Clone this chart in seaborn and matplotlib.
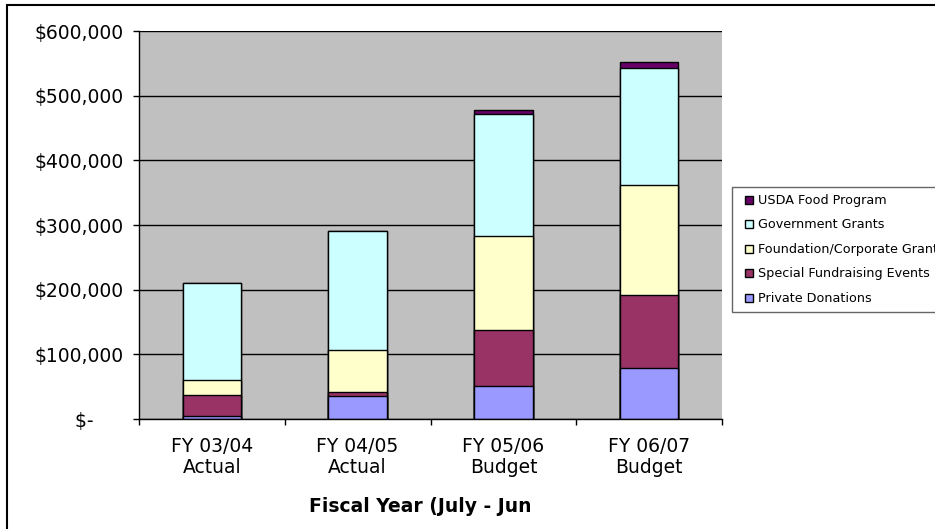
import pandas as pd
import seaborn as sns
import matplotlib.pyplot as plt
from matplotlib.lines import Line2D
from matplotlib.patches import Rectangle
from matplotlib.ticker import FuncFormatter, FixedLocator
from matplotlib.transforms import Bbox, TransformedBbox

# --- data ---
years = ["FY 03/04\nActual", "FY 04/05\nActual", "FY 05/06\nBudget", "FY 06/07\nBudget"]
private = [5000, 35000, 51000, 79000]
special = [32000, 7000, 86000, 113000]
foundation = [24000, 64000, 146000, 170000]
government = [150000, 185000, 188000, 181000]
usda = [0, 0, 7000, 9000]

series = ["Private Donations", "Special Fundraising Events",
          "Foundation/Corporate Grants", "Government Grants", "USDA Food Program"]
colors = ["#9999FF", "#993366", "#FFFFCC", "#CCFFFF", "#660066"]

df = pd.DataFrame({"year": years,
                   series[0]: private,
                   series[1]: special,
                   series[2]: foundation,
                   series[3]: government,
                   series[4]: usda})

# cumulative tops so the stack can be drawn from the top layer down
cum = df[series].cumsum(axis=1)

W, H = 935, 529
fig = plt.figure(figsize=(W / 100, H / 100), dpi=100)
ax = fig.add_axes([139 / W, 110 / H, 583 / W, 388 / H])
ax.set_facecolor("#C0C0C0")

for name, col in zip(series[::-1], colors[::-1]):
    sns.barplot(x=df["year"], y=cum[name], color=col, saturation=1, width=0.4,
                edgecolor="black", linewidth=1, ax=ax)

ax.set_xlim(-0.5, 3.5)
ax.set_ylim(0, 600000)
ax.yaxis.set_major_locator(FixedLocator(range(0, 600001, 100000)))
ax.yaxis.set_major_formatter(FuncFormatter(
    lambda v, p: "$-     " if v == 0 else f"${v:,.0f}"))
ax.yaxis.grid(True, color="black", linewidth=1)
ax.set_axisbelow(True)

ax.set_xlabel("")
ax.set_ylabel("")
for s in ["top", "right"]:
    ax.spines[s].set_visible(False)
for s in ["left", "bottom"]:
    ax.spines[s].set_color("black")
    ax.spines[s].set_linewidth(1)

ax.tick_params(axis="y", length=4.3, width=1, color="black", pad=7, labelsize=13.5)
ax.tick_params(axis="x", which="major", length=0, pad=13, labelsize=13.5)
ax.xaxis.set_minor_locator(FixedLocator([-0.5, 0.5, 1.5, 2.5, 3.5]))
ax.tick_params(axis="x", which="minor", length=4.3, width=1, color="black")
for lab in ax.get_xticklabels():
    lab.set_linespacing(1.1)

# axis title, cut off on the right as in the original
title = fig.text(430.5 / W, 1 - 507 / H, "Fiscal Year (July - June)",
                 ha="center", va="center", fontsize=13.5, fontweight="bold")
title.set_clip_box(TransformedBbox(Bbox.from_extents(0, 0, 529.5 / W, 1), fig.transFigure))
title.set_clip_on(True)

# legend (runs past the right edge of the image)
handles = [Line2D([], [], linestyle="none", marker="s", markersize=5.4,
                  markerfacecolor=c, markeredgecolor="black", markeredgewidth=1)
           for c in colors[::-1]]
leg = fig.legend(handles, series[::-1], loc="upper left",
                 bbox_to_anchor=(731.7 / W, 1 - 186.7 / H), borderaxespad=0,
                 fontsize=9.2, frameon=True, fancybox=False, borderpad=0.57,
                 handlelength=1.5, handletextpad=0.0, labelspacing=0.9)
leg.get_frame().set_edgecolor("#404040")
leg.get_frame().set_linewidth(1)

# outer chart border
fig.add_artist(Rectangle((7 / W, -0.5), 2, 1.5 - 5 / H, transform=fig.transFigure,
                         fill=False, edgecolor="black", linewidth=1.5))

fig.savefig("out.png", dpi=100)
